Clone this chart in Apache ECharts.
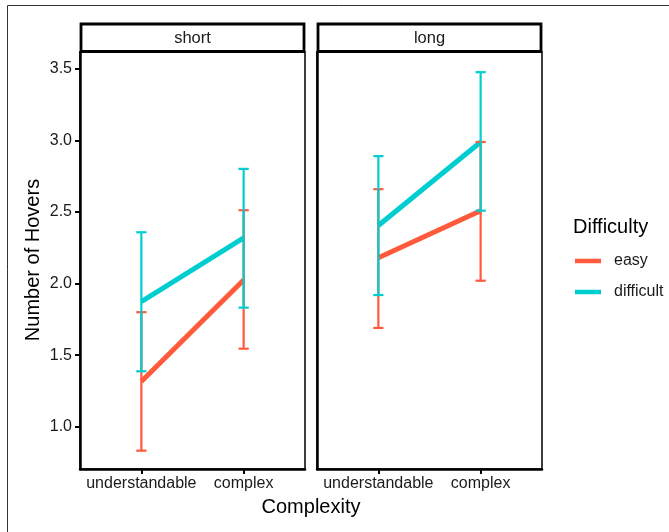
<!DOCTYPE html>
<html>
<head>
<meta charset="utf-8">
<script src="https://cdn.jsdelivr.net/npm/echarts@6/dist/echarts.min.js"></script>
<style>
  html, body { margin: 0; padding: 0; background: #fff; }
  #chart { width: 669px; height: 532px; }
</style>
</head>
<body>
<div id="chart"></div>
<script>
// categories and panels
const categories = ['understandable', 'complex'];
const panels = ['short', 'long'];
const groups = ['easy', 'difficult'];
const yTicks = [1.0, 1.5, 2.0, 2.5, 3.0, 3.5];

// short panel
const shortEasyMean = [1.315, 2.025];
const shortEasyLow = [0.832, 1.545];
const shortEasyHigh = [1.80, 2.513];
const shortDiffMean = [1.874, 2.32];
const shortDiffLow = [1.387, 1.832];
const shortDiffHigh = [2.359, 2.802];

// long panel
const longEasyMean = [2.18, 2.51];
const longEasyLow = [1.69, 2.02];
const longEasyHigh = [2.66, 2.99];
const longDiffMean = [2.406, 2.99];
const longDiffLow = [1.92, 2.51];
const longDiffHigh = [2.891, 3.478];

const colors = { easy: '#FF5A3C', difficult: '#00CDD0' };
const FONT = 'Liberation Sans, Arial, sans-serif';

const chart = echarts.init(document.getElementById('chart'));

// mean line points
function linePoints(means) {
    return means.map((v, i) => [i + 1, v]);
}
// error bar rows: x, low, high
function barRows(low, high) {
    return low.map((v, i) => [i + 1, v, high[i]]);
}

function renderErrorBar(color) {
    return function (params, api) {
        const x = api.value(0);
        const lo = api.coord([x, api.value(1)]);
        const hi = api.coord([x, api.value(2)]);
        const half = api.size([0.1, 0])[0] / 2;
        const style = { stroke: color, lineWidth: 2.2 };
        return {
            type: 'group',
            children: [
                { type: 'line', shape: { x1: lo[0], y1: lo[1], x2: hi[0], y2: hi[1] }, style },
                { type: 'line', shape: { x1: hi[0] - half, y1: hi[1], x2: hi[0] + half, y2: hi[1] }, style },
                { type: 'line', shape: { x1: lo[0] - half, y1: lo[1], x2: lo[0] + half, y2: lo[1] }, style }
            ]
        };
    };
}

const panelData = [
    { easy: [shortEasyMean, shortEasyLow, shortEasyHigh], difficult: [shortDiffMean, shortDiffLow, shortDiffHigh] },
    { easy: [longEasyMean, longEasyLow, longEasyHigh], difficult: [longDiffMean, longDiffLow, longDiffHigh] }
];

const series = [];
panelData.forEach((pd, p) => {
    groups.forEach(g => {
        series.push({
            name: g,
            type: 'line',
            xAxisIndex: p,
            yAxisIndex: p,
            data: linePoints(pd[g][0]),
            symbol: 'none',
            itemStyle: { color: colors[g] },
            lineStyle: { color: colors[g], width: 5 },
            z: 2,
            animation: false
        });
    });
    groups.forEach(g => {
        series.push({
            name: g,
            type: 'custom',
            xAxisIndex: p,
            yAxisIndex: p,
            data: barRows(pd[g][1], pd[g][2]),
            encode: { x: 0, y: [1, 2] },
            itemStyle: { color: colors[g] },
            renderItem: renderErrorBar(colors[g]),
            z: 3,
            animation: false
        });
    });
});

const grids = [
    { left: 80, right: 364, top: 52, bottom: 63 },
    { left: 317, right: 127, top: 52, bottom: 63 }
];

function xAxisFor(i) {
    return {
        type: 'value',
        gridIndex: i,
        min: 0.4,
        max: 2.6,
        splitLine: { show: false },
        axisLine: { lineStyle: { color: '#000', width: 2.5 } },
        axisTick: { customValues: [1, 2], length: 5, lineStyle: { color: '#000', width: 2 } },
        axisLabel: {
            customValues: [1, 2],
            formatter: v => categories[Math.round(v) - 1],
            color: '#1a1a1a',
            fontFamily: FONT,
            fontSize: 16,
            margin: 7
        }
    };
}

function yAxisFor(i) {
    return {
        type: 'value',
        gridIndex: i,
        min: 0.704,
        max: 3.619,
        splitLine: { show: false },
        axisLine: { show: true, lineStyle: { color: '#000', width: 2.5 } },
        axisTick: { show: i === 0, customValues: yTicks, length: 5, lineStyle: { color: '#000', width: 2 } },
        axisLabel: {
            show: i === 0,
            customValues: yTicks,
            formatter: v => v.toFixed(1),
            color: '#1a1a1a',
            fontFamily: FONT,
            fontSize: 16,
            margin: 8
        }
    };
}

// facet strips
const stripGraphics = [];
panels.forEach((name, i) => {
    const g = grids[i];
    const x0 = g.left + 1;
    const w = 669 - g.right - g.left - 2;
    stripGraphics.push({
        type: 'rect',
        shape: { x: x0, y: 24, width: w, height: 27.5 },
        style: { fill: '#fff', stroke: '#000', lineWidth: 2.8 },
        z: 10
    });
    stripGraphics.push({
        type: 'text',
        x: x0 + w / 2,
        y: 38,
        style: { text: name, font: '16.5px ' + FONT, fill: '#1a1a1a', align: 'center', verticalAlign: 'middle' },
        z: 11
    });
});

const option = {
    backgroundColor: '#fff',
    animation: false,
    grid: grids.map(g => Object.assign({ show: true, borderColor: '#000', borderWidth: 1.5, backgroundColor: '#fff' }, g)),
    xAxis: [xAxisFor(0), xAxisFor(1)],
    yAxis: [yAxisFor(0), yAxisFor(1)],
    legend: {
        data: groups,
        orient: 'vertical',
        left: 570,
        top: 248,
        icon: 'rect',
        itemWidth: 26,
        itemHeight: 4.5,
        itemGap: 15,
        textStyle: { fontFamily: FONT, fontSize: 16, color: '#1a1a1a', lineHeight: 16, padding: [0, 0, 0, 8] }
    },
    graphic: [
        {
            type: 'rect',
            shape: { x: 7.5, y: 5.5, width: 700, height: 600 },
            style: { fill: 'none', stroke: '#333', lineWidth: 1 },
            silent: true
        },
        ...stripGraphics,
        {
            type: 'text',
            x: 311,
            y: 507,
            style: { text: 'Complexity', font: '20px ' + FONT, fill: '#000', align: 'center', verticalAlign: 'middle' }
        },
        {
            type: 'text',
            x: 33,
            y: 260,
            rotation: Math.PI / 2,
            style: { text: 'Number of Hovers', font: '20px ' + FONT, fill: '#000', align: 'center', verticalAlign: 'middle' }
        },
        {
            type: 'text',
            x: 573,
            y: 227,
            style: { text: 'Difficulty', font: '20px ' + FONT, fill: '#000', align: 'left', verticalAlign: 'middle' }
        }
    ],
    series: series
};

chart.setOption(option);
</script>
</body>
</html>
